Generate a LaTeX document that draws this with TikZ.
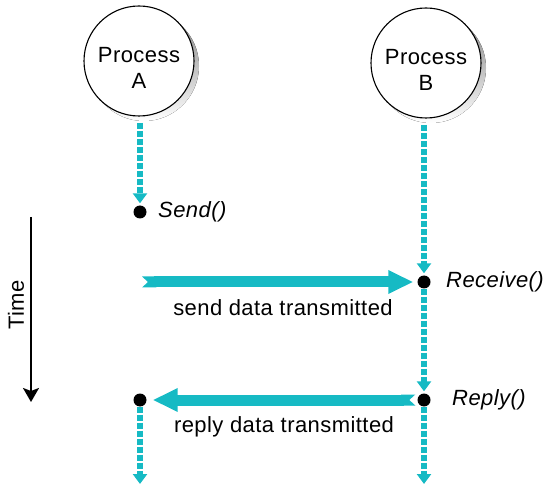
\documentclass[tikz,border=0pt]{standalone}
\usepackage{fontspec}
\setmainfont{Liberation Sans}[LetterSpace=2]
\usetikzlibrary{arrows.meta,calc}
\definecolor{flow}{RGB}{22,186,196}
\definecolor{shade}{RGB}{192,192,192}
\tikzset{
  proc/.style={circle,draw=black,line width=1.1pt,fill=white,minimum size=110pt,inner sep=0pt},
  proctext/.style={align=center,inner sep=0pt,font=\fontsize{22}{26}\selectfont},
  evdot/.style={circle,fill=black,minimum size=13pt,inner sep=0pt},
  lbl/.style={font=\fontsize{22}{26}\selectfont\itshape,anchor=west,inner sep=0pt},
  captext/.style={font=\fontsize{22}{26}\selectfont,inner sep=0pt},
  life/.style={draw=flow,line width=6pt,dash pattern=on 6pt off 2pt,
     -{Triangle[length=10pt,width=14pt]}},
  fat/.style={draw=flow,line width=11pt,
     {Triangle Cap[reversed,length=6pt]}-{Triangle[length=25pt,width=22pt]}},
}
\begin{document}
\begin{tikzpicture}[x=1pt,y=-1pt]
\useasboundingbox (0,0) rectangle (554,486);
% shadows
\fill[shade] (144,66) circle (55);
\fill[shade] (431,68) circle (55);
% processes
\node[proc] (A) at (139,61) {};
\node[proc] (B) at (426,63) {};
\node[proctext] (At) at (139,68) {Process\\A};
\node[proctext] (Bt) at (426,70) {Process\\B};
% event dots
\node[evdot] (send) at (140,212) {};
\node[evdot] (recv) at (424,282) {};
\node[evdot] (replyB) at (424,400) {};
\node[evdot] (replyA) at (140,400) {};
\coordinate (endA) at (140,484);
\coordinate (endB) at (424,484);
\coordinate (sendtail) at (142,282);
\coordinate (Abot) at (140,123);
\coordinate (Bbot) at (424,125);
% labels
\node[lbl] (sendl) at (158,212) {Send()};
\node[lbl] (recvl) at (446,282) {Receive()};
\node[lbl] (replyl) at (452,400) {Reply()};
\node[captext] (sendc) at (283,308) {send data transmitted};
\node[captext] (replyc) at (284,427) {reply data transmitted};
% lifelines
\draw[life] (Abot) -- ($(send.north)+(0,-2)$);
\draw[life] (Bbot) -- ($(recv.north)+(0,-2)$);
\draw[life] (recv) -- ($(replyB.north)+(0,-2)$);
\draw[life] (replyB) -- (endB);
\draw[life] (replyA) -- (endA);
% data transfers
\draw[fat] (sendtail) -- ($(recv.west)+(-4,0)$);
\draw[fat] ($(replyB.west)+(-2,0)$) -- ($(replyA.east)+(6,0)$);
% time axis
\coordinate (t0) at (31,217);
\coordinate (t1) at (31,402);
\draw[line width=2pt,-{Stealth[length=14pt,width=16pt,inset=3pt]}] (t0) -- (t1);
\node[captext,rotate=90] (time) at (16,305) {Time};
\end{tikzpicture}
\end{document}
